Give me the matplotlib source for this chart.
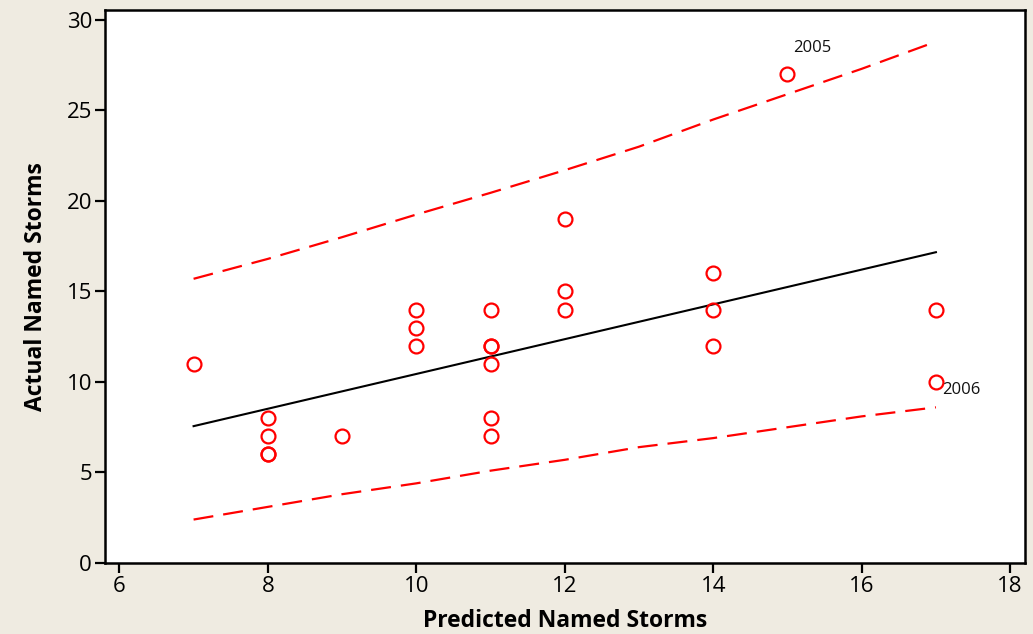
import matplotlib
matplotlib.use("Agg")
import matplotlib.pyplot as plt

# Data
pred = [7, 8, 8, 8, 8, 9, 10, 10, 10, 11, 11, 11, 11, 11, 11, 12, 12, 12, 14, 14, 14, 15, 17, 17]
actual = [11, 8, 7, 6, 6, 7, 14, 13, 12, 14, 12, 12, 11, 8, 7, 19, 15, 14, 16, 14, 12, 27, 14, 10]

fit_x = [7, 17]
fit_y = [7.56, 17.17]

band_x = [7, 8, 9, 10, 11, 12, 13, 14, 15, 16, 17]
upper = [15.7, 16.8, 18.0, 19.25, 20.45, 21.7, 23.0, 24.5, 25.9, 27.3, 28.8]
lower = [2.4, 3.1, 3.8, 4.4, 5.1, 5.7, 6.4, 6.9, 7.5, 8.1, 8.6]

labels = [("2005", 15.08, 28.0), ("2006", 17.08, 9.1)]

bg = '#EFEBE1'
plt.rcParams['font.family'] = ['Open Sans', 'DejaVu Sans']

fig = plt.figure(figsize=(10.33, 6.34), dpi=100, facecolor=bg)
ax = fig.add_axes([104.5/1033, 1-563/634, (1025-104.5)/1033, (563-10)/634])
ax.set_facecolor('white')

ax.plot(band_x, upper, color='#FF0000', lw=1.6, dashes=(9.0, 4.5))
ax.plot(band_x, lower, color='#FF0000', lw=1.6, dashes=(9.0, 4.5))
ax.plot(fit_x, fit_y, color='black', lw=1.5)
ax.plot(pred, actual, linestyle='none', marker='o', markersize=10,
        markerfacecolor='none', markeredgecolor='#FF0000', markeredgewidth=1.6)

for t, x, y in labels:
    ax.text(x, y, t, fontsize=12, color='#111111', ha='left', va='bottom')

ax.set_xlim(5.8, 18.2)
ax.set_ylim(0, 30.55)
ax.set_xticks([6, 8, 10, 12, 14, 16, 18])
ax.set_yticks([0, 5, 10, 15, 20, 25, 30])
ax.tick_params(direction='out', length=7, width=1.6, labelsize=16, colors='black', pad=2)
for s in ax.spines.values():
    s.set_linewidth(1.8)
    s.set_color('black')

ax.set_xlabel('Predicted Named Storms', fontsize=16.5, fontweight='bold', labelpad=9)
ax.set_ylabel('Actual Named Storms', fontsize=16.5, fontweight='bold', labelpad=13)

fig.savefig('out.png', dpi=100, facecolor=bg)
